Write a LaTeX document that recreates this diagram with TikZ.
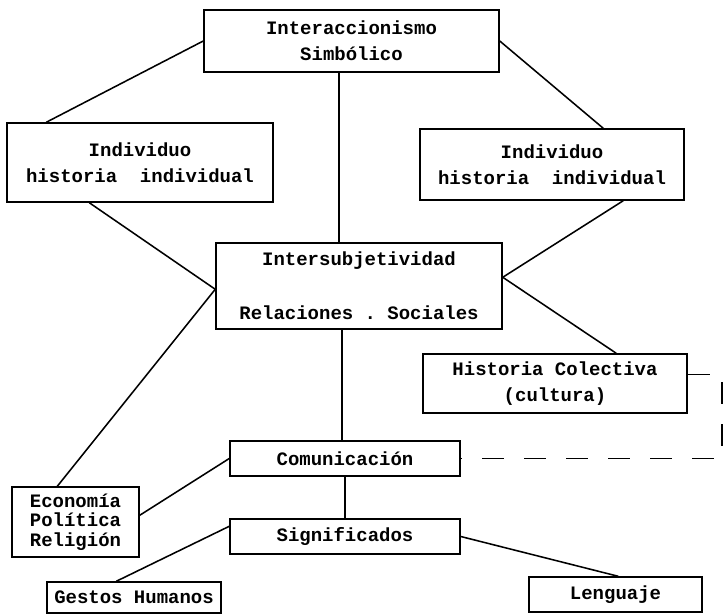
\documentclass[tikz,border=0pt]{standalone}
\usepackage{fontspec}
\setmonofont{Liberation Mono}
\usetikzlibrary{calc,positioning}

\begin{document}
\begin{tikzpicture}[
  x=0.025cm, y=-0.025cm,
  conceptbox/.style={draw, line width=1pt, align=center, inner sep=0pt, font=\ttfamily\bfseries\fontsize{13.5}{18.5}\selectfont},
  link/.style={line width=1.1pt},
  dashlink/.style={line width=1.1pt, dash pattern=on 0.55cm off 0.5cm}
]
\useasboundingbox (0,0) rectangle (723,615);

\node[conceptbox, minimum width=7.375cm, minimum height=1.55cm] (interSimb) at (351.5,41) {Interaccionismo\\Simbólico};

\node[conceptbox, minimum width=6.65cm, minimum height=1.975cm] (indivLeft) at (140,162.5) {Individuo\\historia~~individual};
\node[conceptbox, minimum width=6.6cm, minimum height=1.775cm] (indivRight) at (552,164.5) {Individuo\\historia~~individual};

\node[conceptbox, minimum width=7.15cm, minimum height=2.15cm] (interSubj) at (359,286) {Intersubjetividad\\[19.9pt]Relaciones . Sociales};
\node[conceptbox, minimum width=6.6cm, minimum height=1.475cm] (histCol) at (555,383.5) {Historia Colectiva\\(cultura)};

\node[conceptbox, minimum width=5.75cm, minimum height=0.875cm] (comunic) at (345,458.5) {Comunicación};
\node[conceptbox, align=left, minimum width=3.175cm, minimum height=1.75cm] (econPol) at (75.5,522) {Economía\\[-4.5pt]Política\\[-4.5pt]Religión};
\node[conceptbox, minimum width=5.75cm, minimum height=0.875cm] (signif) at (345,536.5) {Significados};

\node[conceptbox, minimum width=4.35cm, minimum height=0.775cm] (gestos) at (134,597.5) {Gestos Humanos};
\node[conceptbox, minimum width=4.325cm, minimum height=0.875cm] (lenguaje) at (615.5,594.5) {Lenguaje};

\coordinate (subjLeft) at ($(interSubj.north west)+(0,47)$);
\coordinate (subjRight) at ($(interSubj.north east)+(0,35)$);
\coordinate (interDown) at ($(interSimb.south west)+(136,0)$);
\coordinate (comUp) at ($(comunic.north west)+(113,0)$);

\draw[link] (interSimb.west) -- ($(indivLeft.north west)+(40,0)$);
\draw[link] (interSimb.east) -- ($(indivRight.north west)+(184,0)$);
\draw[link] (interDown) -- (interDown |- interSubj.north);
\draw[link] ($(indivLeft.south west)+(83,0)$) -- (subjLeft);
\draw[link] ($(indivRight.south west)+(204,0)$) -- (subjRight);
\draw[link] (subjRight) -- ($(histCol.north west)+(194,0)$);
\draw[link] (subjLeft) -- ($(econPol.north west)+(46,0)$);
\draw[link] (comUp |- interSubj.south) -- (comUp);
\draw[link] ($(econPol.north east)+(0,29)$) -- (comunic.west);
\draw[link] (comunic.south) -- (signif.north);
\draw[link] ($(signif.north west)+(0,8)$) -- ($(gestos.north west)+(70,0)$);
\draw[link] (signif.east) -- ($(lenguaje.north west)+(90,0)$);
\draw[dashlink] ($(histCol.north east)+(0,21)$) -- ++(34,0) |- (comunic.east);
\end{tikzpicture}
\end{document}
